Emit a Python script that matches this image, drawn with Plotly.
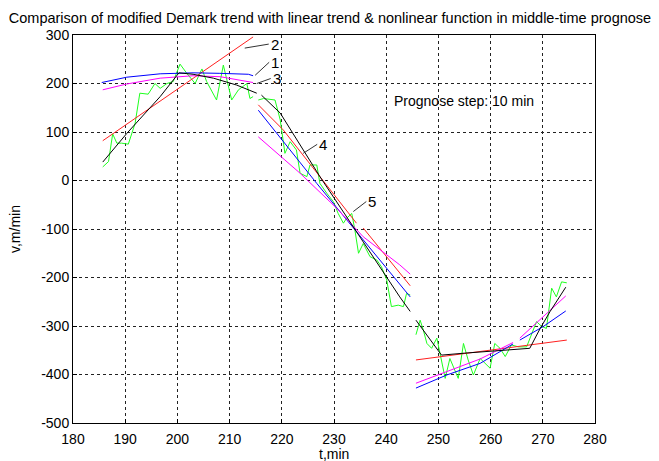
import plotly.graph_objects as go

# ---------------- data ----------------
# measured speed (green), three 30-min segments
meas_t1 = [185.7, 186.8, 187.6, 188.4, 189.3, 190.6, 191.9, 192.8, 194.4, 195.7, 196.7, 198.0, 199.2,
           200.5, 201.8, 203.4, 204.7, 205.6, 207.5, 208.8, 210.4, 211.7, 213.3, 213.9, 214.5]
meas_v1 = [28, 39, 96, 77, 77, 75, 118, 180, 178, 200, 190, 200, 204,
           240, 221, 200, 230, 204, 166, 238, 166, 187, 200, 169, 173]
meas_t2 = [215.5, 216.5, 218.7, 219.7, 220.6, 221.6, 222.8, 223.5, 224.8, 225.4, 226.7, 227.3, 228.6,
           229.9, 230.8, 231.8, 232.4, 233.4, 234.0, 234.7, 235.6, 236.9, 238.2, 239.1, 240.1, 241.0,
           242.3, 243.3, 243.9, 244.6]
meas_v2 = [166, 169, 166, 125, 56, 80, 63, 15, 8, 32, 32, -6, -26,
           -44, -68, -88, -78, -68, -102, -150, -130, -157, -164, -178, -205, -260,
           -257, -260, -233, -236]
meas_t3 = [245.7, 246.5, 247.1, 247.8, 248.7, 249.7, 251.3, 252.2, 253.8, 254.8, 255.7, 256.7, 258.0,
           259.2, 259.9, 260.8, 261.8, 262.8, 264.0, 265.3, 266.9, 268.8, 269.8, 270.7, 271.7, 272.6,
           273.6, 274.6]
meas_v3 = [-318, -288, -308, -336, -346, -325, -408, -367, -408, -336, -370, -401, -367,
           -380, -387, -336, -346, -363, -339, -343, -343, -291, -301, -305, -222, -240,
           -209, -211]

# modified Demark trend (black)
demark_t = [185.7, 190.3, 196.7, 200.3, 203.0, 206.9, 211.3, 215.2, None,
            216.1, 219.7, 227.3, 235.0, 242.6, 244.6, None,
            245.7, 250.6, 255.0, 260.0, 265.6, 267.5, 269.5, 271.4, 274.4]
demark_v = [38, 97, 173, 222, 219, 211, 197, 180, None,
            176, 139, 8, -118, -240, -270, None,
            -288, -360, -356, -352, -347, -346, -305, -270, -220]

# linear trend (red)
linear_t = [185.7, 214.5, None, 215.5, 220.3, 234.3, None, 235.6, 242.6, 244.6, None, 245.7, 274.6]
linear_v = [82, 296, None, 156, 104, -88, None, -98, -191, -217, None, -370, -329]

# nonlinear function 1 (blue)
nonlin1_t = [185.5, 190.3, 196.7, 203.0, 208.0, 213.6, 214.5, None,
             215.5, 226.7, 244.6, None,
             245.7, 251.6, 258.0, 264.3, None, 265.6, 270.1, 274.4]
nonlin1_v = [202, 213, 220, 222, 221, 219, 216, None,
             145, -6, -240, None,
             -428, -401, -377, -337, None, -329, -301, -269]

# nonlinear function 2 (magenta)
nonlin2_t = [185.7, 190.3, 196.7, 203.0, 208.2, 211.7, 214.5, None,
             215.5, 223.5, 230.5, 235.6, 242.6, 244.6, None,
             245.7, 251.6, 258.0, 264.3, None, 265.6, 274.4]
nonlin2_v = [187, 199, 211, 216, 214, 207, 202, None,
             90, 15, -57, -116, -174, -193, None,
             -418, -394, -368, -334, None, -325, -238]

x_ticks = list(range(180, 281, 10))
y_ticks = list(range(-500, 301, 100))
x_tick_text = [str(v) for v in x_ticks]
y_tick_text = [str(v) for v in y_ticks]   # plain hyphen minus, as in the reference

# curve labels: (text, t, v at leader tip, offset x px, offset y px)
curve_labels = [("2", 212.9, 273, 24, -4),
                ("1", 214.9, 217, 14, -13),
                ("3", 215.2, 200, 14, -5),
                ("4", 224.1, 56, 14, -9),
                ("5", 233.7, -64, 13, -10)]

# ---------------- figure ----------------
fig = go.Figure()
green_t = meas_t1 + [None] + meas_t2 + [None] + meas_t3
green_v = meas_v1 + [None] + meas_v2 + [None] + meas_v3
fig.add_trace(go.Scatter(x=green_t, y=green_v, mode="lines",
                         line=dict(color="#1eff1e", width=1), connectgaps=False))
fig.add_trace(go.Scatter(x=linear_t, y=linear_v, mode="lines",
                         line=dict(color="#ff2020", width=1), connectgaps=False))
fig.add_trace(go.Scatter(x=nonlin1_t, y=nonlin1_v, mode="lines",
                         line=dict(color="#0000ff", width=1), connectgaps=False))
fig.add_trace(go.Scatter(x=nonlin2_t, y=nonlin2_v, mode="lines",
                         line=dict(color="#ff00ff", width=1), connectgaps=False))
fig.add_trace(go.Scatter(x=demark_t, y=demark_v, mode="lines",
                         line=dict(color="#000000", width=1), connectgaps=False))

font_family = "Liberation Sans, Arial, sans-serif"

for txt, tx, ty, axp, ayp in curve_labels:
    fig.add_annotation(x=tx, y=ty, xref="x", yref="y", text=txt, showarrow=True,
                       arrowhead=0, arrowwidth=1, arrowcolor="#333333",
                       ax=axp, ay=ayp, font=dict(family=font_family, size=15, color="black"),
                       xanchor="left", yanchor="middle")

fig.add_annotation(x=254.9, y=163, xref="x", yref="y", text="Prognose step: 10 min",
                   showarrow=False, font=dict(family=font_family, size=14, color="black"))

# axis titles
fig.add_annotation(x=0.5, y=0, xref="paper", yref="paper", text="t,min", showarrow=False,
                   yshift=-31, yanchor="middle",
                   font=dict(family=font_family, size=14, color="black"))
fig.add_annotation(x=0, y=0.5, xref="paper", yref="paper", text="v,m/min", showarrow=False,
                   xshift=-58, xanchor="center", textangle=-90,
                   font=dict(family=font_family, size=14, color="black"))

axis_common = dict(showline=True, linecolor="black", linewidth=1, mirror=True,
                   showgrid=True, gridcolor="#222222", gridwidth=1, griddash="3px,3px",
                   zeroline=False, ticks="inside", ticklen=4, tickcolor="black",
                   automargin=False,
                   tickfont=dict(family=font_family, size=14, color="black"))

fig.update_layout(
    width=659, height=461,
    margin=dict(l=65, r=72, t=27, b=46),
    paper_bgcolor="white", plot_bgcolor="white",
    showlegend=False,
    title=dict(text="Comparison of modified Demark trend with linear trend & nonlinear function in middle-time prognose",
               x=0.4886, xanchor="center", y=0.978, yanchor="middle",
               font=dict(family=font_family, size=14.5, color="black")),
    xaxis=dict(range=[180, 280], tickvals=x_ticks, ticktext=x_tick_text, ticklabelstandoff=3,
               **axis_common),
    yaxis=dict(range=[-500, 300], tickvals=y_ticks, ticktext=y_tick_text,
               **axis_common),
)

fig.write_html("out.html")
